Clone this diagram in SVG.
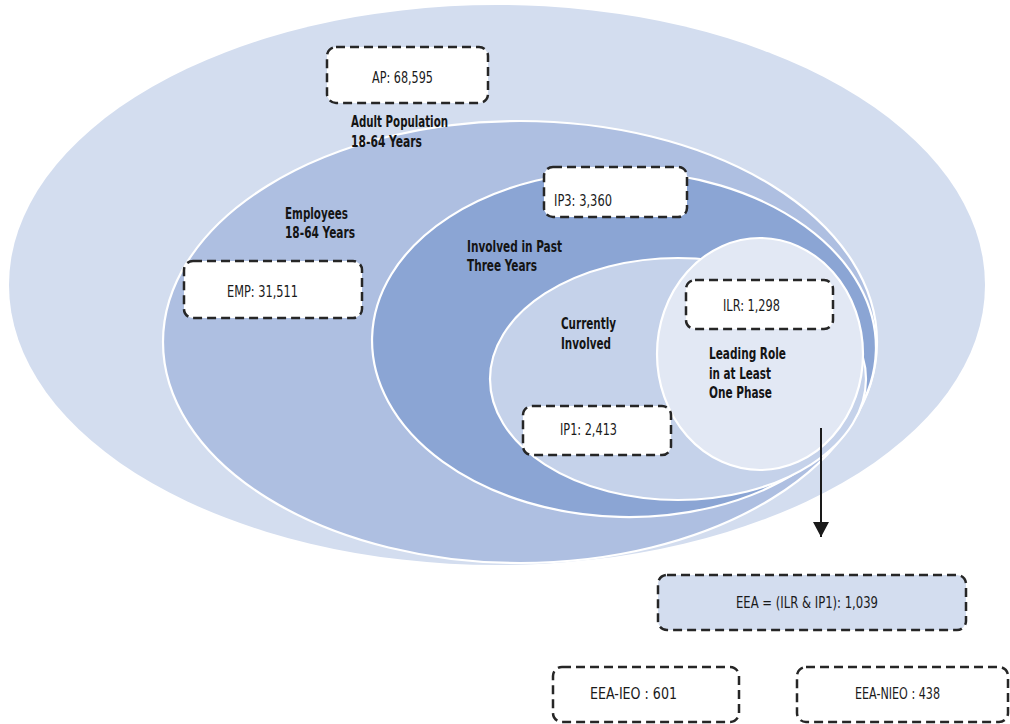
<svg xmlns="http://www.w3.org/2000/svg" width="1010" height="724" viewBox="0 0 1010 724">
  <defs>
    <marker id="arrowhead" markerWidth="16" markerHeight="16" refX="15" refY="8" orient="auto" markerUnits="userSpaceOnUse">
      <path d="M0,0 L15,8 L0,16 Z" fill="#1a1a1a"/>
    </marker>
    <style>
      .set { stroke: #ffffff; stroke-width: 2.2; }
      .box { fill: #ffffff; stroke: #262626; stroke-width: 2.5; stroke-dasharray: 9 5; }
      .box-tint { fill: #d3ddef; }
      .val { font-family: "Liberation Sans Narrow", "DejaVu Sans Condensed", "Liberation Sans", sans-serif; font-size: 15.5px; fill: #1a1a1a; }
      .lbl { font-family: "Liberation Sans Narrow", "DejaVu Sans Condensed", "Liberation Sans", sans-serif; font-size: 15px; font-weight: bold; fill: #141414; }
      .link { stroke: #1a1a1a; stroke-width: 2; fill: none; }
    </style>
  </defs>

  <rect width="1010" height="724" fill="#ffffff"/>

  <!-- nested population sets -->
  <g id="set-adult-population">
    <ellipse cx="497" cy="285" rx="488" ry="280" fill="#d3ddef"/>
  </g>
  <g id="set-employees">
    <ellipse class="set" cx="520" cy="342" rx="357" ry="221" fill="#aebfe1"/>
  </g>
  <g id="set-involved-past-three-years">
    <ellipse class="set" cx="624" cy="344" rx="252" ry="173" fill="#8ba5d4" transform="rotate(1.5 624 344)"/>
  </g>
  <g id="set-currently-involved">
    <ellipse class="set" cx="678" cy="379" rx="188" ry="121" fill="#c5d2ea"/>
  </g>
  <g id="set-leading-role">
    <ellipse class="set" cx="760" cy="354" rx="103" ry="116" fill="#e2e8f4"/>
  </g>

  <!-- set labels -->
  <g id="labels">
    <text class="lbl" x="351" y="127" textLength="97" lengthAdjust="spacingAndGlyphs">Adult Population</text>
    <text class="lbl" x="351" y="147" textLength="71" lengthAdjust="spacingAndGlyphs">18-64 Years</text>
    <text class="lbl" x="285" y="219" textLength="63" lengthAdjust="spacingAndGlyphs">Employees</text>
    <text class="lbl" x="285" y="238" textLength="70" lengthAdjust="spacingAndGlyphs">18-64 Years</text>
    <text class="lbl" x="467" y="252" textLength="95" lengthAdjust="spacingAndGlyphs">Involved in Past</text>
    <text class="lbl" x="467" y="271" textLength="70" lengthAdjust="spacingAndGlyphs">Three Years</text>
    <text class="lbl" x="561" y="329" textLength="55" lengthAdjust="spacingAndGlyphs">Currently</text>
    <text class="lbl" x="561" y="349" textLength="50" lengthAdjust="spacingAndGlyphs">Involved</text>
    <text class="lbl" x="709" y="359" textLength="77" lengthAdjust="spacingAndGlyphs">Leading Role</text>
    <text class="lbl" x="709" y="379" textLength="62" lengthAdjust="spacingAndGlyphs">in at Least</text>
    <text class="lbl" x="709" y="398" textLength="63" lengthAdjust="spacingAndGlyphs">One Phase</text>
  </g>

  <!-- count boxes -->
  <g id="box-ap">
    <rect class="box" x="327" y="47" width="161" height="56" rx="9"/>
    <text class="val" x="372" y="83" textLength="61" lengthAdjust="spacingAndGlyphs">AP: 68,595</text>
  </g>
  <g id="box-emp">
    <rect class="box" x="184" y="261" width="178" height="57" rx="9"/>
    <text class="val" x="227" y="297" textLength="71" lengthAdjust="spacingAndGlyphs">EMP: 31,511</text>
  </g>
  <g id="box-ip3">
    <rect class="box" x="544" y="167" width="143" height="50" rx="9"/>
    <text class="val" x="554" y="206" textLength="58" lengthAdjust="spacingAndGlyphs">IP3: 3,360</text>
  </g>
  <g id="box-ilr">
    <rect class="box" x="686" y="280" width="147" height="49" rx="9"/>
    <text class="val" x="723" y="311" textLength="57" lengthAdjust="spacingAndGlyphs">ILR: 1,298</text>
  </g>
  <g id="box-ip1">
    <rect class="box" x="523" y="406" width="148" height="49" rx="9"/>
    <text class="val" x="560" y="435" textLength="57" lengthAdjust="spacingAndGlyphs">IP1: 2,413</text>
  </g>

  <!-- connector -->
  <g id="connectors">
    <line class="link" x1="821" y1="428" x2="821" y2="537" marker-end="url(#arrowhead)"/>
  </g>

  <g id="box-eea">
    <rect class="box box-tint" x="658" y="575" width="308" height="55" rx="9"/>
    <text class="val" x="736" y="608" textLength="142" lengthAdjust="spacingAndGlyphs">EEA = (ILR &amp; IP1): 1,039</text>
  </g>
  <g id="box-eea-ieo">
    <rect class="box" x="553" y="667" width="186" height="55" rx="9"/>
    <text class="val" x="590" y="699" textLength="87" lengthAdjust="spacingAndGlyphs">EEA-IEO : 601</text>
  </g>
  <g id="box-eea-nieo">
    <rect class="box" x="797" y="667" width="211" height="55" rx="9"/>
    <text class="val" x="855" y="699" textLength="85" lengthAdjust="spacingAndGlyphs">EEA-NIEO : 438</text>
  </g>
</svg>
